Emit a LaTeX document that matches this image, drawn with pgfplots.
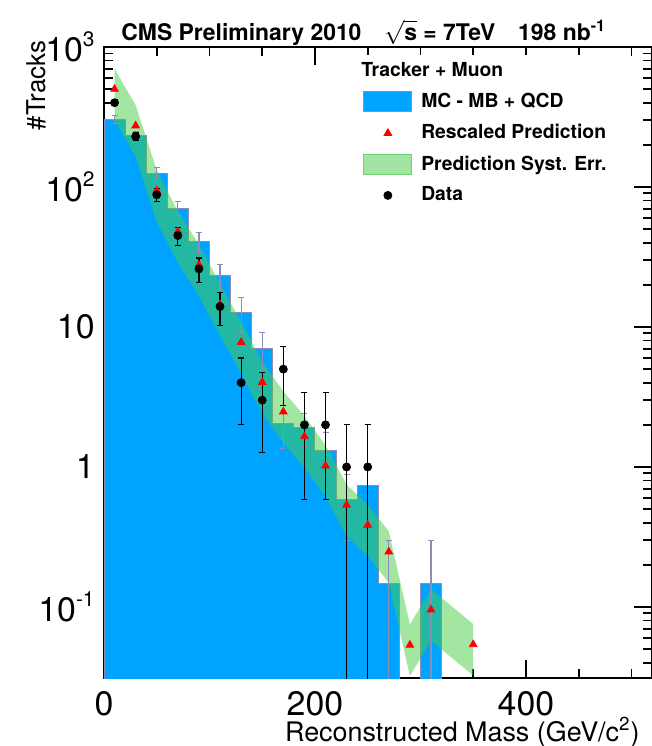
\documentclass[border=0pt]{standalone}
\usepackage{fontspec}
\setmainfont{TeX Gyre Heros}
\usepackage{pgfplots}
\pgfplotsset{compat=1.18}
\definecolor{mcblue}{RGB}{0,163,255}
\definecolor{mcline}{RGB}{140,140,180}
\definecolor{bandgreen}{RGB}{70,205,70}
\definecolor{bandline}{RGB}{110,210,110}
\newcommand{\sups}[1]{\raisebox{0.45em}{\fontsize{10.5}{10.5}\selectfont #1}}

\begin{document}
\begin{tikzpicture}
\path[use as bounding box] (-52bp,-34bp) rectangle (274bp,339bp);
\begin{axis}[
  at={(0,0)}, anchor=south west,
  scale only axis, width=274bp, height=315.5bp,
  xmin=0, xmax=519.5, ymode=log, ymin=0.0311, ymax=1000,
  tick pos=both, tick align=inside,
  xtick={0,200,400}, xticklabels={0,200,400},
  minor xtick={50,100,150,250,300,350,450,500},
  ytick={0.1,1,10,100,1000},
  yticklabels={10\sups{-1},1,10,10\sups{2},10\sups{3}},
  minor ytick={0.04,0.05,0.06,0.07,0.08,0.09,0.2,0.3,0.4,0.5,0.6,0.7,0.8,0.9,2,3,4,5,6,7,8,9,20,30,40,50,60,70,80,90,200,300,400,500,600,700,800,900},
  major tick length=9bp, minor tick length=4.5bp,
  every tick/.style={black, line width=0.9bp},
  axis line style={line width=1.2bp},
  ticklabel style={font=\fontsize{17}{17}\selectfont},
  xticklabel style={inner sep=0pt, yshift=-6.5bp},
  yticklabel style={inner sep=0pt, xshift=-4.5bp},
  title={CMS Preliminary 2010\quad$\sqrt{\mbox{s}}$ = 7TeV\quad 198 nb\textsuperscript{-1}},
  title style={at={(axis description cs:0.474,1)}, anchor=base, yshift=-2.5bp, font=\fontsize{11.5}{13}\selectfont\bfseries},
  xlabel={Reconstructed Mass (GeV/c\textsuperscript{2})},
  xlabel style={at={(axis description cs:1,0)}, anchor=base east, yshift=-31.5bp, xshift=-6bp, inner sep=0pt, font=\fontsize{13.5}{15}\selectfont},
  ylabel={\#Tracks},
  ylabel style={at={([shift={(-29bp,3.5bp)}]axis description cs:0,1)}, anchor=south east, inner sep=0pt, font=\fontsize{13}{15}\selectfont},
  legend cell align=left,
  legend style={at={(axis description cs:0.458,1)}, anchor=north west, yshift=-4bp,
    draw=none, fill=white, inner xsep=4bp, inner ysep=3bp, row sep=5.5bp,
    nodes={inner sep=0.5bp},
    font=\fontsize{9.7}{11}\selectfont\bfseries},
]
% MC - MB + QCD histogram
\addplot[fill=mcblue, draw=mcline, line width=0.5bp, forget plot] coordinates {
(0,0.001) (0,305) (20,305) (20,235) (40,235) (40,125) (60,125) (60,70.5) (80,70.5)
(80,40.7) (100,40.7) (100,23.2) (120,23.2) (120,12.7) (140,12.7) (140,7.05) (160,7.05)
(160,2.06) (180,2.06) (180,1.91) (200,1.91) (200,1.32) (220,1.32) (220,0.59) (240,0.59)
(240,0.735) (260,0.735) (260,0.148) (280,0.148) (280,0.001) (300,0.001) (300,0.148)
(320,0.148) (320,0.001)};
% prediction systematic band
\addplot[fill=bandgreen, fill opacity=0.5, draw=none, forget plot] coordinates {
(10,700) (30,383.6) (50,131.6) (70,67.2) (90,38.8) (110,20.3) (130,10.88) (150,5.64)
(170,3.47) (190,2.31) (210,1.428) (230,0.749) (250,0.539) (270,0.347) (290,0.0749)
(310,0.134) (350,0.0756)
(350,0.0324) (310,0.0574) (290,0.0321) (270,0.149) (250,0.231) (230,0.321) (210,0.612)
(190,0.99) (170,1.49) (150,2.42) (130,4.66) (110,8.7) (90,16.62) (70,28.8) (50,56.4)
(30,164.4) (10,300)};
% MC stat errors
\addplot[draw=none, no markers, forget plot,
  error bars/.cd, y dir=both, y explicit,
  error bar style={draw=mcline, line width=0.6bp},
  error mark options={rotate=90, draw=mcline, line width=0.6bp, mark size=1.5bp}] coordinates {
(10,305) +- (0,20)
(30,235) +- (0,15)
(50,125) +- (0,12)
(70,70.5) +- (0,8)
(90,40.7) +- (0,6.5)
(110,23.2) +- (0,4.7)
(130,12.7) +- (0,3.5)
(150,7.05) +- (0,2.05)
(170,2.06) +- (0,0.7)
(190,1.91) +- (0,0.5)
(210,1.32) +- (0,0.45)
(230,0.59) +- (0,0.29)
(250,0.735) +- (0,0.33)
(270,0.148) += (0,0.15) -= (0,0.147)
(310,0.148) += (0,0.15) -= (0,0.147)};
% rescaled prediction
\addplot[only marks, mark=triangle*, mark size=2.2bp, color=red, forget plot] coordinates {
(10,500) (30,274) (50,94) (70,48) (90,27.7) (110,14.5) (130,7.77) (150,4.03) (170,2.48)
(190,1.65) (210,1.02) (230,0.535) (250,0.385) (270,0.248) (290,0.0535) (310,0.0957)
(350,0.054)};
% data
\addplot[only marks, mark=*, mark size=2bp, black, forget plot,
  error bars/.cd, y dir=both, y explicit,
  error bar style={black, line width=0.6bp},
  error mark options={rotate=90, black, line width=0.6bp, mark size=1.5bp}] coordinates {
(10,400) +- (0,20)
(30,230) +- (0,15.2)
(50,88) +- (0,9.4)
(70,45) +- (0,6.7)
(90,26) +- (0,5.1)
(110,14) +- (0,3.74)
(130,4) +- (0,2)
(150,3) +- (0,1.73)
(170,5) +- (0,2.24)
(190,2) +- (0,1.414)
(210,2) +- (0,1.414)
(230,1) += (0,1) -= (0,0.999)
(250,1) += (0,1) -= (0,0.999)};
% legend
\addlegendimage{empty legend}
\addlegendentry{\hspace*{-30bp}Tracker + Muon}
\addlegendimage{legend image code/.code={\draw[fill=mcblue, draw=mcline, line width=0.5bp] (0bp,-5bp) rectangle (24bp,5bp); \path (28bp,0bp);}}
\addlegendentry{MC - MB + QCD}
\addlegendimage{legend image code/.code={\draw[red, mark=triangle*, mark size=2.2bp] plot coordinates {(12bp,0bp)}; \path (0bp,0bp) (28bp,0bp);}}
\addlegendentry{Rescaled Prediction}
\addlegendimage{legend image code/.code={\draw[fill=bandgreen, fill opacity=0.5, draw=bandline, line width=0.5bp] (0bp,-5bp) rectangle (24bp,5bp); \path (28bp,0bp);}}
\addlegendentry{Prediction Syst. Err.}
\addlegendimage{legend image code/.code={\draw[black, mark=*, mark size=2bp] plot coordinates {(12bp,0bp)}; \path (0bp,0bp) (28bp,0bp);}}
\addlegendentry{Data}
\end{axis}
\end{tikzpicture}
\end{document}
